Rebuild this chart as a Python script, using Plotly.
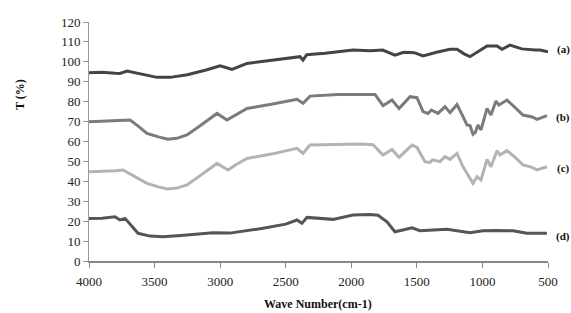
import plotly.graph_objects as go

# Wave numbers (cm-1) and transmittance (%)
wn_a = [4000, 3900, 3800, 3764, 3710, 3600, 3481, 3382, 3250, 3100, 3001, 2950, 2910, 2795, 2600, 2414, 2391, 2368, 2340, 2200, 1987, 1857,
        1760, 1667, 1600, 1520, 1453, 1350, 1247, 1194, 1140, 1095, 1030, 965, 889, 851, 790, 700, 600, 561, 500]
T_a = [94.5, 94.8, 94.3, 94.2, 95.4, 94.0, 92.2, 92.2, 93.5, 96.0, 98.0, 97.0, 96.2, 99.2, 100.8, 102.2, 102.6, 100.9, 103.6, 104.3, 105.9, 105.6,
       105.9, 103.4, 104.8, 104.6, 103.0, 104.8, 106.3, 106.3, 104.0, 102.6, 105.5, 108.0, 108.0, 106.3, 108.4, 106.5, 105.9, 105.9, 105.0]

wn_b = [4000, 3900, 3800, 3687, 3620, 3558, 3470, 3398, 3330, 3253, 3150, 3060, 3024, 2948, 2880, 2795, 2600, 2414, 2368, 2315, 2100, 1934, 1819,
        1758, 1690, 1636, 1552, 1499, 1453, 1415, 1390, 1339, 1285, 1247, 1194, 1148, 1118, 1095, 1072, 1055, 1034, 1011, 965, 935, 897, 874, 813, 750, 691, 620, 584, 508]
T_b = [69.9, 70.2, 70.6, 70.8, 67.5, 64.1, 62.3, 61.1, 61.6, 63.3, 68.0, 72.5, 74.1, 70.8, 73.5, 76.6, 78.8, 81.2, 79.2, 82.8, 83.6, 83.7, 83.6,
       78.0, 80.8, 76.6, 82.5, 82.0, 75.0, 74.1, 75.8, 74.1, 77.5, 74.5, 78.6, 72.5, 68.3, 68.0, 63.6, 64.5, 68.3, 65.8, 76.6, 73.3, 80.3, 78.3, 80.8, 77.0, 73.3, 72.3, 71.1, 73.0]

wn_c = [4000, 3900, 3800, 3741, 3650, 3558, 3470, 3398, 3330, 3253, 3150, 3060, 3024, 2940, 2880, 2795, 2600, 2414, 2368, 2315, 2100, 1934, 1834,
        1758, 1690, 1636, 1537, 1499, 1438, 1400, 1380, 1324, 1285, 1247, 1194, 1148, 1110, 1072, 1041, 1011, 965, 935, 889, 866, 813, 750, 691, 620, 584, 508]
T_c = [44.8, 45.0, 45.3, 45.7, 42.5, 39.0, 37.2, 36.1, 36.6, 38.2, 43.0, 47.5, 49.0, 45.7, 48.3, 51.5, 53.8, 56.6, 54.0, 58.2, 58.5, 58.7, 58.4,
       53.2, 56.0, 52.0, 58.2, 57.0, 49.9, 49.5, 50.8, 49.9, 52.4, 51.0, 54.0, 47.3, 43.2, 39.0, 42.3, 40.7, 51.0, 47.3, 55.4, 53.2, 55.4, 52.0, 48.2, 47.0, 45.7, 47.3]

wn_d = [4000, 3900, 3802, 3764, 3725, 3626, 3535, 3436, 3300, 3054, 2925, 2673, 2500, 2414, 2376, 2338, 2139, 1987, 1857, 1796,
        1728, 1667, 1606, 1537, 1476, 1380, 1270, 1095, 996, 900, 767, 660, 508]
T_d = [21.4, 21.5, 22.2, 20.6, 21.4, 13.9, 12.5, 12.2, 12.8, 14.2, 14.0, 16.4, 18.5, 20.6, 18.9, 21.9, 20.9, 23.1, 23.4, 23.0,
       19.7, 14.7, 15.6, 16.7, 15.2, 15.5, 15.9, 14.2, 15.2, 15.3, 15.2, 13.9, 13.9]

series = [
    ("(a)", wn_a, T_a, "#444444", 50),
    ("(b)", wn_b, T_b, "#7b7b7b", 117),
    ("(c)", wn_c, T_c, "#b3b3b3", 168),
    ("(d)", wn_d, T_d, "#555555", 236),
]

x_ticks = [4000, 3500, 3000, 2500, 2000, 1500, 1000, 500]
y_ticks = [0, 10, 20, 30, 40, 50, 60, 70, 80, 90, 100, 110, 120]

W, H = 571, 313
L, R, T, B = 89, 23, 22, 52
PW, PH = W - L - R, H - T - B

fig = go.Figure()
for name, xs, ys, col, _ in series:
    fig.add_trace(go.Scatter(x=xs, y=ys, mode="lines", name=name,
                             line=dict(color=col, width=3), showlegend=False))

serif = "Liberation Serif, Times New Roman, serif"
for name, xs, ys, col, ypix in series:
    fig.add_annotation(text="<b>%s</b>" % name, xref="paper", yref="paper",
                       x=(563 - L) / PW, y=1 - (ypix - T) / PH,
                       xanchor="center", yanchor="middle", showarrow=False,
                       font=dict(family=serif, size=11, color="#111111"))

fig.add_annotation(text="<b>T (%)</b>", xref="paper", yref="paper",
                   x=(20 - L) / PW, y=1 - (95 - T) / PH,
                   xanchor="center", yanchor="middle", textangle=-90, showarrow=False,
                   font=dict(family=serif, size=12, color="#111111"))

fig.add_annotation(text="<b>Wave Number(cm-1)</b>", xref="paper", yref="paper",
                   x=(318 - L) / PW, y=1 - (304 - T) / PH,
                   xanchor="center", yanchor="middle", showarrow=False,
                   font=dict(family=serif, size=12, color="#111111"))

fig.update_layout(
    width=W, height=H,
    margin=dict(l=L, r=R, t=T, b=B),
    paper_bgcolor="white", plot_bgcolor="white",
    font=dict(family=serif, size=13, color="#222222"),
)
fig.update_xaxes(range=[4000, 500], tickvals=x_ticks, ticktext=[str(v) for v in x_ticks],
                 showgrid=False, zeroline=False, showline=True, linecolor="#888888", linewidth=1.5,
                 ticks="outside", ticklen=5, tickcolor="#888888", ticklabelstandoff=3,
                 automargin=False, layer="above traces")
fig.update_yaxes(range=[0, 120], tickvals=y_ticks,
                 showgrid=False, zeroline=False, showline=True, linecolor="#999999", linewidth=1,
                 ticks="outside", ticklen=5, tickcolor="#999999", automargin=False)

fig.write_html("out.html", config={"displayModeBar": False},
               post_script="document.body.style.margin='0';")
